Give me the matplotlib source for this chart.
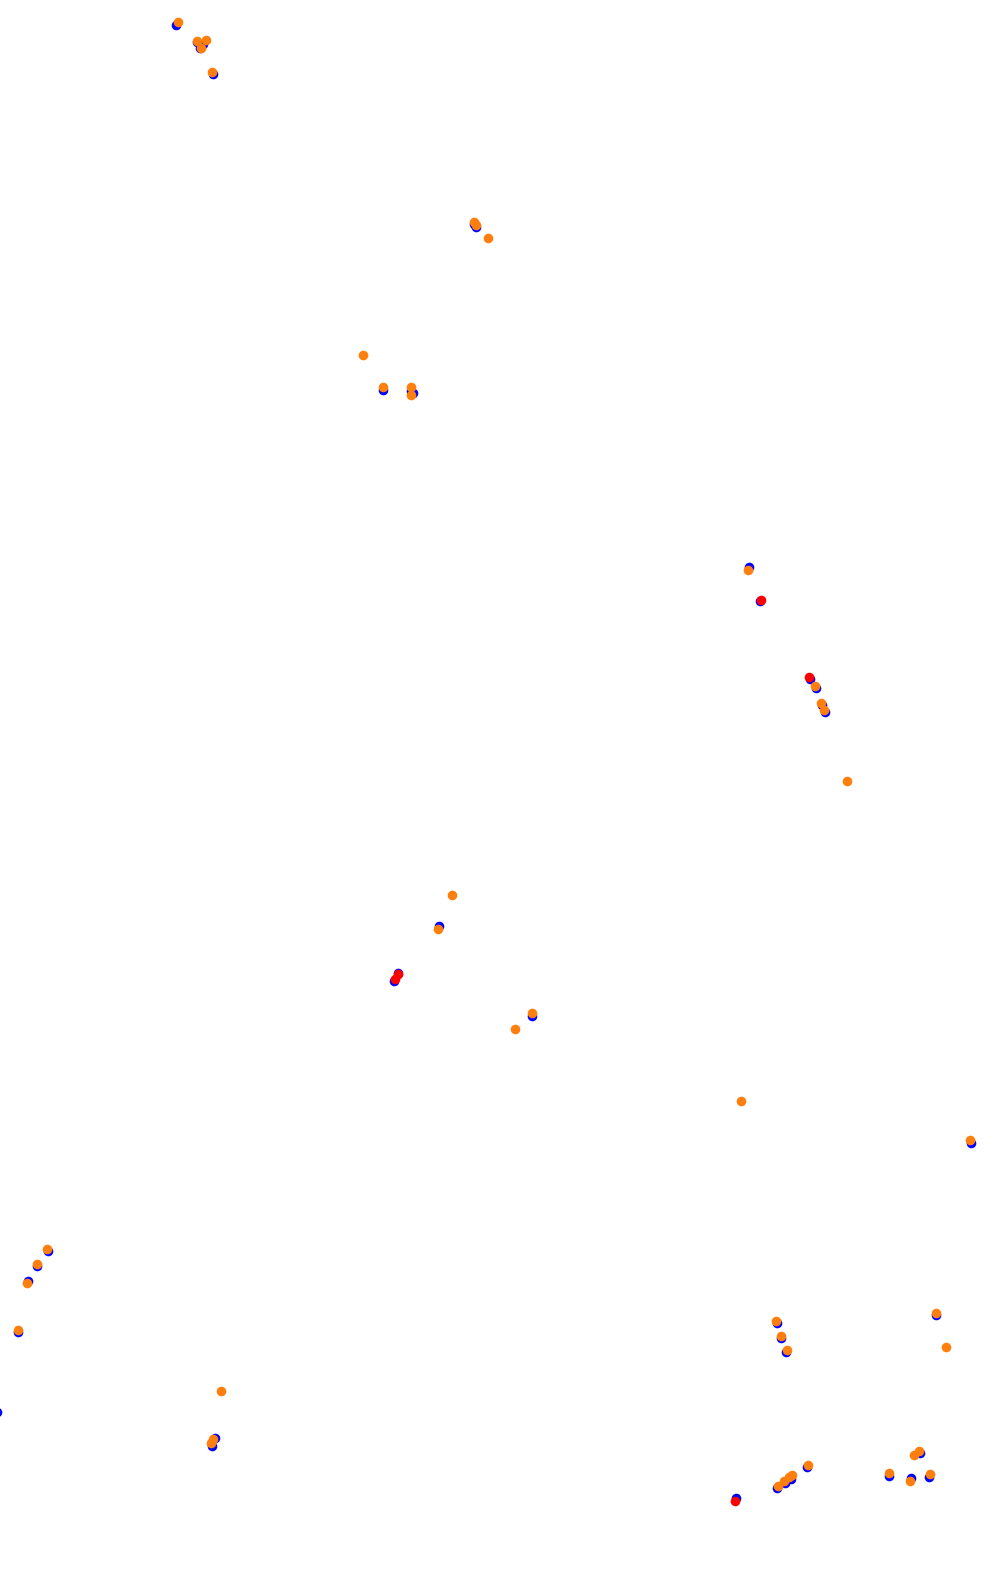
import matplotlib
matplotlib.use("Agg")
import matplotlib.pyplot as plt
import numpy as np

# positions (pixel space, y grows downward)
blue_x = [175.7, 197.5, 203.5, 200.5, 213.3, 473.7, 476.0, 382.7, 411.0, 413.0,
          749.3, 760.0, 810.0, 816.3, 822.0, 825.3, 439.0, 394.3, 397.7,
          531.7, 971.0, 48.3, 37.0, 28.0, 18.0, -3.0, 215.5, 212.5, 777.0, 781.0,
          785.7, 936.0, 920.0, 889.0, 911.0, 928.7, 806.7, 776.7, 785.3,
          790.7, 736.0]
blue_y = [25.0, 42.0, 43.5, 47.5, 74.0, 224.3, 227.3, 389.7, 391.0, 393.3,
          567.3, 600.7, 678.7, 688.0, 704.7, 712.0, 926.3, 981.0, 973.3,
          1016.0, 1143.3, 1251.0, 1266.3, 1280.7, 1332.3, 1411.7, 1437.5, 1446.0, 1323.0, 1338.3,
          1352.0, 1315.0, 1453.3, 1476.0, 1478.0, 1477.0, 1467.3, 1488.3, 1483.3,
          1479.3, 1498.3]

red_x = [760.7, 808.7, 394.7, 398.0, 734.7]
red_y = [600.0, 676.7, 978.7, 974.3, 1500.7]

orange_x = [177.7, 197.3, 206.0, 201.0, 211.7, 473.7, 475.7, 487.7, 362.7,
            382.7, 410.7, 410.7, 748.0, 815.0, 820.7, 824.0, 846.7, 451.7,
            437.7, 531.7, 514.7, 741.0, 970.0, 47.0, 37.0, 27.0, 18.0,
            220.7, 213.5, 211.0, 776.0, 781.0, 787.0, 936.0, 945.7, 919.0, 914.0,
            889.0, 909.7, 929.7, 807.7, 777.7, 784.3, 789.3, 792.0]
orange_y = [22.3, 40.7, 40.3, 48.3, 71.7, 222.3, 225.3, 237.7, 354.7,
            387.0, 387.0, 395.0, 570.0, 685.7, 703.0, 710.0, 780.7, 894.7,
            929.0, 1012.7, 1028.7, 1100.7, 1140.3, 1249.0, 1264.3, 1282.7, 1330.3,
            1391.0, 1438.5, 1443.0, 1321.0, 1336.0, 1349.7, 1312.7, 1346.7, 1451.0, 1454.7,
            1472.7, 1480.7, 1473.7, 1464.7, 1485.7, 1480.7, 1477.3, 1475.3]

fig = plt.figure(figsize=(10.04, 15.93), dpi=100)
ax = fig.add_axes([0, 0, 1, 1])
ax.scatter(blue_x, blue_y, s=48, color='#0000ff', linewidths=0)
ax.scatter(red_x, red_y, s=48, color='#ff0000', linewidths=0)
ax.scatter(orange_x, orange_y, s=48, color='#ff7f0e', linewidths=0)
ax.set_xlim(0, 1004)
ax.set_ylim(1593, 0)
ax.axis('off')
fig.savefig('out.png', dpi=100, facecolor='white')
